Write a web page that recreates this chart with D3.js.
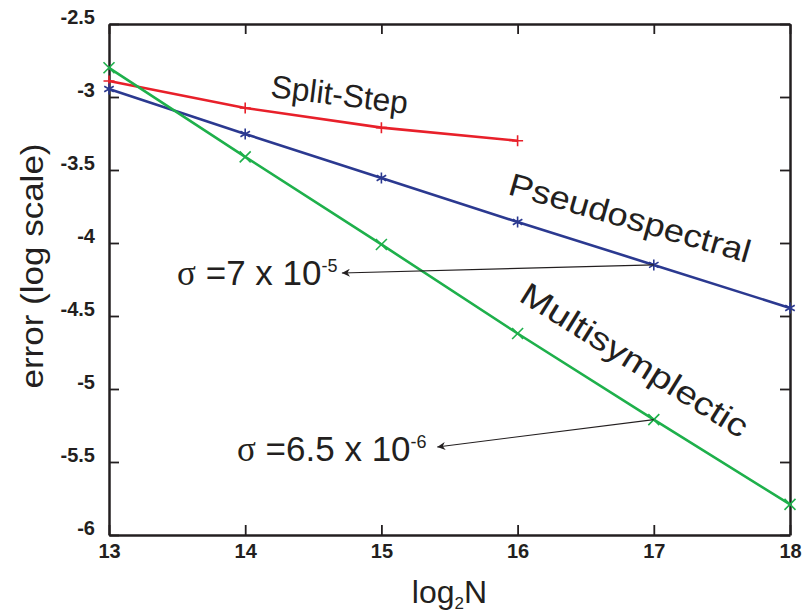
<!DOCTYPE html>
<html>
<head>
<meta charset="utf-8">
<script src="https://cdn.jsdelivr.net/npm/d3@7"></script>
<style>
  body { margin: 0; background: #fff; }
  .lbl { font-family: "Liberation Sans", Arial, sans-serif; fill: #231f20; }
</style>
</head>
<body>
<svg width="807" height="614"></svg>
<script>
// log2N values
var logN = [13, 14, 15, 16, 17, 18];
// log10 error per method
var splitStep = [-2.89, -3.075, -3.21, -3.30];
var pseudo = [-2.945, -3.253, -3.555, -3.856, -4.15, -4.445];
var multi = [-2.80, -3.41, -4.01, -4.62, -5.21, -5.79];
var xTicks = [13, 14, 15, 16, 17, 18];
var yTicks = [-6, -5.5, -5, -4.5, -4, -3.5, -3, -2.5];

var svg = d3.select("svg"),
    margin = {top: 24, right: 17, bottom: 79, left: 109},
    width = svg.attr("width") - margin.left - margin.right,
    height = svg.attr("height") - margin.top - margin.bottom,
    g = svg.append("g").attr("transform", "translate(" + margin.left + "," + margin.top + ")");

var x = d3.scaleLinear().domain([13, 18]).range([0, width]),
    y = d3.scaleLinear().domain([-6, -2.5]).range([height, 0]);

var ink = "#231f20";

//axes, ticks pointing inward (plain hyphen for minus)
g.append("g").attr("transform", "translate(0," + height + ")")
  .call(d3.axisBottom(x).tickValues(xTicks).tickFormat(function(d){ return String(d); }).tickSizeInner(-10).tickSizeOuter(0).tickPadding(9));
g.append("g")
  .call(d3.axisLeft(y).tickValues(yTicks).tickFormat(function(d){ return String(d); }).tickSizeInner(-10).tickSizeOuter(0).tickPadding(14))
  .selectAll("text").attr("dy", "-0.02em");
g.append("g")
  .call(d3.axisTop(x).tickValues(xTicks).tickFormat("").tickSizeInner(-10).tickSizeOuter(0));
g.append("g").attr("transform", "translate(" + width + ",0)")
  .call(d3.axisRight(y).tickValues(yTicks).tickFormat("").tickSizeInner(-10).tickSizeOuter(0));

g.selectAll(".domain").attr("stroke", ink).attr("stroke-width", 2.5);
g.selectAll(".tick line").attr("stroke", ink).attr("stroke-width", 1.8);
g.selectAll(".tick text")
  .style("font-family", "'Liberation Sans', Arial, sans-serif")
  .style("font-weight", "bold").style("font-size", "20px").style("fill", ink);

//markers
function plus(s){ return "M" + (-s) + ",0H" + s + "M0," + (-s) + "V" + s; }
function times(s){ return "M" + (-s) + "," + (-s) + "L" + s + "," + s + "M" + (-s) + "," + s + "L" + s + "," + (-s); }
function aster(s){
  var u = s * 0.866, t = s / 2;
  return "M0," + (-s) + "V" + s + "M" + (-u) + "," + (-t) + "L" + u + "," + t + "M" + (-u) + "," + t + "L" + u + "," + (-t);
}

var series = [
  {name: "Split-Step", values: splitStep, color: "#e8202a", marker: plus},
  {name: "Pseudospectral", values: pseudo, color: "#2b3990", marker: aster},
  {name: "Multisymplectic", values: multi, color: "#1eb04b", marker: times}
];

var line = d3.line()
  .x(function(d){ return x(d.n); })
  .y(function(d){ return y(d.e); });

series.forEach(function(s){
  var pts = s.values.map(function(v, i){ return {n: logN[i], e: v}; });
  g.append("path").datum(pts)
    .attr("d", line).attr("fill", "none")
    .attr("stroke", s.color).attr("stroke-width", 2.6);
  g.selectAll(null).data(pts).enter().append("path")
    .attr("transform", function(d){ return "translate(" + x(d.n) + "," + y(d.e) + ")"; })
    .attr("d", s.marker(5.5)).attr("fill", "none")
    .attr("stroke", s.color).attr("stroke-width", 1.6);
});

//series labels, placed in data coords
var labels = [
  {text: "Split-Step", n: 14.18, e: -3.0, rot: 7, len: 138},
  {text: "Pseudospectral", n: 15.92, e: -3.664, rot: 16, len: 250},
  {text: "Multisymplectic", n: 16.0, e: -4.39, rot: 32, len: 262}
];
g.selectAll(".slbl").data(labels).enter().append("text")
  .attr("class", "lbl")
  .attr("transform", function(d){ return "translate(" + x(d.n) + "," + y(d.e) + ") rotate(" + d.rot + ")"; })
  .attr("font-size", 32)
  .attr("textLength", function(d){ return d.len; })
  .attr("lengthAdjust", "spacingAndGlyphs")
  .text(function(d){ return d.text; });

//sigma annotations with arrows
svg.append("defs").append("marker")
  .attr("id", "ah").attr("viewBox", "0 0 10 10").attr("refX", 10).attr("refY", 5)
  .attr("markerWidth", 12).attr("markerHeight", 8).attr("markerUnits", "userSpaceOnUse")
  .attr("orient", "auto")
  .append("path").attr("d", "M0,0L10,5L0,10L3,5Z").attr("fill", ink);

var notes = [
  {mant: "7", exp: "-5", n: 13.50, e: -4.288, from: [17, pseudo[4]], to: [14.71, -4.205]},
  {mant: "6.5", exp: "-6", n: 13.94, e: -5.493, from: [17, multi[4]], to: [15.41, -5.397]}
];
notes.forEach(function(d){
  g.append("line")
    .attr("x1", x(d.from[0])).attr("y1", y(d.from[1]))
    .attr("x2", x(d.to[0])).attr("y2", y(d.to[1]))
    .attr("stroke", ink).attr("stroke-width", 1.1)
    .attr("marker-end", "url(#ah)");
  var t = g.append("text").attr("class", "lbl")
    .attr("x", x(d.n)).attr("y", y(d.e)).attr("font-size", 35);
  t.append("tspan").attr("font-family", "'Liberation Serif', serif").text("σ");
  t.append("tspan").text(" =" + d.mant + " x 10");
  t.append("tspan").attr("font-size", 18).attr("dy", -13).text(d.exp);
});

//axis titles
svg.append("text").attr("class", "lbl")
  .attr("transform", "translate(43,266) rotate(-90)")
  .attr("text-anchor", "middle").attr("font-size", 32)
  .attr("textLength", 245).attr("lengthAdjust", "spacingAndGlyphs")
  .text("error (log scale)");

var xt = svg.append("text").attr("class", "lbl")
  .attr("x", margin.left + width / 2).attr("y", 603)
  .attr("text-anchor", "middle").attr("font-size", 32);
xt.append("tspan").text("log");
xt.append("tspan").attr("font-size", 17).attr("dy", 6).text("2");
xt.append("tspan").attr("dy", -6).text("N");
</script>
</body>
</html>
